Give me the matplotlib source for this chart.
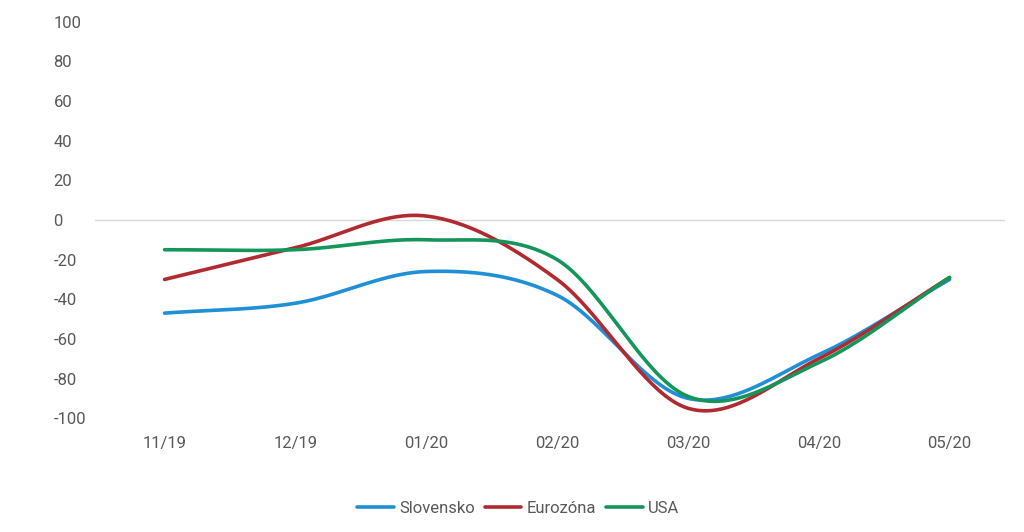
import numpy as np
import matplotlib.pyplot as plt
from matplotlib.ticker import FuncFormatter

categories = ['11/19', '12/19', '01/20', '02/20', '03/20', '04/20', '05/20']
slovensko = [-47, -42, -26, -38, -90, -68, -30]
eurozona = [-30, -14, 2, -30, -95, -70, -29]
usa = [-15, -15, -10, -20, -89, -72, -29]


def smooth(y, n=40):
    # Catmull-Rom style smoothing like Excel's smoothed lines
    y = np.asarray(y, float)
    p = np.concatenate([[2 * y[0] - y[1]], y, [2 * y[-1] - y[-2]]])
    xs, ys = [], []
    for i in range(len(y) - 1):
        p0, p1, p2, p3 = p[i], p[i + 1], p[i + 2], p[i + 3]
        t = np.linspace(0, 1, n, endpoint=False)
        yy = 0.5 * ((2 * p1) + (-p0 + p2) * t + (2 * p0 - 5 * p1 + 4 * p2 - p3) * t ** 2
                    + (-p0 + 3 * p1 - 3 * p2 + p3) * t ** 3)
        xs.append(i + t)
        ys.append(yy)
    xs.append([len(y) - 1])
    ys.append([y[-1]])
    return np.concatenate(xs), np.concatenate(ys)


plt.rcParams['font.family'] = 'Roboto'
fig = plt.figure(figsize=(10.24, 5.32), dpi=100)
ax = fig.add_axes([0.093, 0.214, 0.888, 0.745])

for vals, col, lab in [(slovensko, '#1f8fd6', 'Slovensko'),
                       (eurozona, '#b02a30', 'Eurozóna'),
                       (usa, '#15955a', 'USA')]:
    x, y = smooth(vals)
    ax.plot(x, y, color=col, lw=2.6, label=lab, solid_capstyle='round')

ax.axhline(0, color='#d9d9d9', lw=1, zorder=0)
ax.set_xlim(-0.53, 6.42)
ax.set_ylim(-100, 100)
ax.set_yticks(range(-100, 101, 20))
ax.yaxis.set_major_formatter(FuncFormatter(lambda v, p: '%d' % v))
ax.set_xticks(range(len(categories)))
ax.set_xticklabels(categories)
for s in ax.spines.values():
    s.set_visible(False)
ax.tick_params(length=0, labelsize=12, labelcolor='#595959')
ax.tick_params(axis='x', pad=13)
ax.tick_params(axis='y', pad=30)
for t in ax.get_yticklabels():
    t.set_horizontalalignment('left')

ax.legend(loc='upper center', bbox_to_anchor=(0.465, -0.17), ncol=3, frameon=False,
          fontsize=12, labelcolor='#595959', handlelength=2.2, columnspacing=0.6,
          handletextpad=0.3)
fig.savefig('out.png', dpi=100)
